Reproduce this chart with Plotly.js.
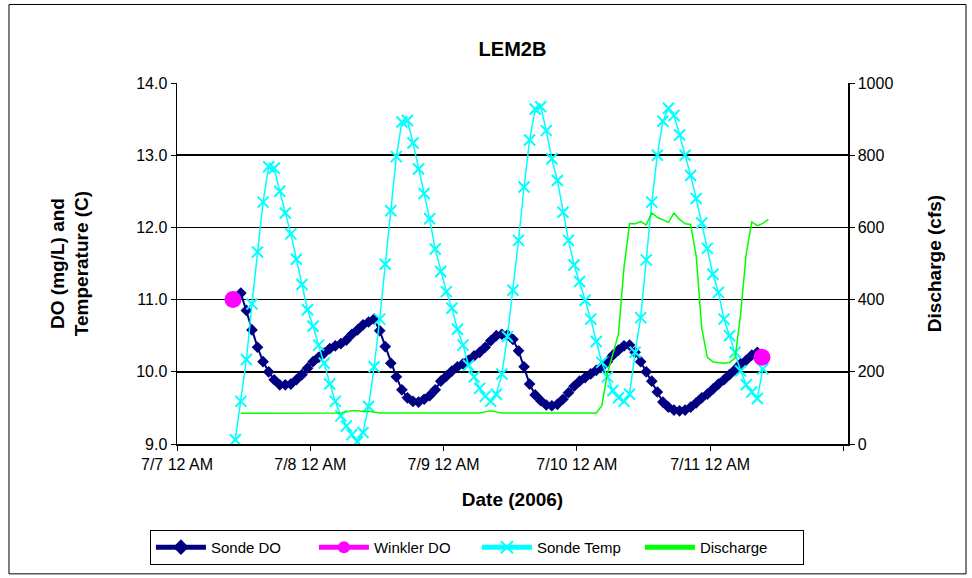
<!DOCTYPE html>
<html><head><meta charset="utf-8">
<script src="https://cdn.plot.ly/plotly-3.0.1.min.js"></script>
<style>html,body{margin:0;padding:0;background:#fff}#chart{width:972px;height:578px}</style>
</head><body><div id="chart"></div>
<script>
// Sampling: hourly readings
const sondeStart = '2006-07-07T10:30';
const dischargeStart = '2006-07-07T11:30';

const sondeDO = [null, 11.09, 10.85, 10.58, 10.34, 10.14, 10.00, 9.89, 9.82, 9.82,
  9.83, 9.89, 9.96, 10.05, 10.14, 10.20, 10.26, 10.32, 10.36, 10.39,
  10.44, 10.52, 10.58, 10.65, 10.69, 10.73, 10.57, 10.35, 10.12, 9.93,
  9.75, 9.64, 9.59, 9.58, 9.62, 9.67, 9.75, 9.87, 9.94, 10.01,
  10.07, 10.11, 10.16, 10.22, 10.27, 10.34, 10.43, 10.50, 10.52, 10.51,
  10.45, 10.29, 10.07, 9.83, 9.68, 9.60, 9.54, 9.53, 9.55, 9.62,
  9.71, 9.80, 9.87, 9.92, 9.97, 10.02, 10.07, 10.14, 10.23, 10.30,
  10.36, 10.37, 10.27, 10.14, 10.00, 9.87, 9.72, 9.58, 9.51, 9.47,
  9.46, 9.47, 9.51, 9.57, 9.64, 9.69, 9.76, 9.83, 9.89, 9.96,
  10.03, 10.11, 10.16, 10.23, 10.27, null];

const sondeTemp = [9.06, 9.59, 10.17, 10.94, 11.66, 12.35, 12.84, 12.82, 12.50, 12.20,
  11.91, 11.56, 11.21, 10.86, 10.63, 10.37, 10.12, 9.83, 9.59, 9.39,
  9.25, 9.13, 9.03, 9.16, 9.52, 10.07, 10.73, 11.49, 12.23, 12.98,
  13.46, 13.48, 13.17, 12.81, 12.47, 12.12, 11.70, 11.39, 11.11, 10.88,
  10.59, 10.37, 10.09, 9.93, 9.77, 9.66, 9.59, 9.69, 9.97, 10.49,
  11.13, 11.82, 12.56, 13.21, 13.64, 13.67, 13.34, 12.95, 12.65, 12.21,
  11.82, 11.48, 11.25, 10.99, 10.73, 10.42, 10.13, 9.93, 9.74, 9.64,
  9.59, 9.69, 10.27, 10.75, 11.55, 12.35, 13.00, 13.47, 13.65, 13.55,
  13.28, 13.00, 12.72, 12.40, 12.06, 11.71, 11.35, 11.10, 10.73, 10.50,
  10.27, 10.01, 9.82, 9.72, 9.63, 10.04];

const discharge = [85, 85, 86, 86, 86, 86, 86, 86, 86, 86,
  86, 86, 86, 86, 86, 86, 86, 86, 86, 89,
  92, 92, 90, 91, 88, 86, 86, 86, 86, 86,
  86, 86, 86, 86, 86, 86, 86, 86, 86, 86,
  86, 86, 86, 86, 89, 92, 89, 86, 86, 86,
  86, 86, 86, 86, 86, 86, 86, 86, 86, 86,
  86, 86, 86, 86, 86, 106, 195, 250, 305, 490,
  611, 610, 616, 607, 640, 628, 622, 614, 640, 622,
  610, 608, 520, 320, 240, 228, 225, 224, 226, 238,
  360, 527, 615, 605, 611, 622];

const winklerTimes = ['2006-07-07 10:05', '2006-07-11 09:20'];
const winklerDO = [11.0, 10.2];

const tickVals = ['2006-07-07', '2006-07-08', '2006-07-09', '2006-07-10', '2006-07-11', '2006-07-12'];
const tickText = ['7/7 12 AM', '7/8 12 AM', '7/9 12 AM', '7/10 12 AM', '7/11 12 AM', ''];

function hourly(start, n) {
  const [d, t] = start.split('T');
  const [Y, M, D] = d.split('-').map(Number);
  const [h, m] = t.split(':').map(Number);
  const base = Date.UTC(Y, M - 1, D, h, m);
  const out = [];
  for (let i = 0; i < n; i++) {
    out.push(new Date(base + i * 3600000).toISOString().slice(0, 16).replace('T', ' '));
  }
  return out;
}

const sondeTimes = hourly(sondeStart, sondeTemp.length);
const dischargeTimes = hourly(dischargeStart, discharge.length);

const FONT = 'Liberation Sans, Arial, sans-serif';

const traces = [
  {name: 'Sonde DO', x: sondeTimes, y: sondeDO, type: 'scatter', mode: 'lines+markers',
   line: {color: '#000080', width: 2}, marker: {symbol: 'diamond', size: 9, color: '#000080'},
   legendrank: 1, connectgaps: false},
  {name: 'Sonde Temp', x: sondeTimes, y: sondeTemp, type: 'scatter', mode: 'lines+markers',
   line: {color: '#00FFFF', width: 1.5},
   marker: {symbol: 'x-thin', size: 11, color: '#00FFFF', line: {color: '#00FFFF', width: 2}},
   legendrank: 3},
  {name: 'Winkler DO', x: [winklerTimes[0], winklerTimes[0], winklerTimes[1]],
   y: [winklerDO[0], null, winklerDO[1]], type: 'scatter', mode: 'lines+markers',
   line: {color: '#FF00FF', width: 1.5}, marker: {symbol: 'circle', size: 17, color: '#FF00FF'},
   connectgaps: false, legendrank: 2},
  {name: 'Discharge', x: dischargeTimes, y: discharge, yaxis: 'y2', type: 'scatter', mode: 'lines',
   line: {color: '#00FF00', width: 1.5}, legendrank: 4}
];

const layout = {
  width: 972, height: 578,
  margin: {l: 177, r: 124, t: 83, b: 134},
  paper_bgcolor: '#fff', plot_bgcolor: '#fff',
  font: {family: FONT, size: 16, color: '#000'},
  showlegend: true,
  title: {text: '<b>LEM2B</b>', font: {family: FONT, size: 20, color: '#000'},
          x: 0.5, xref: 'paper', xanchor: 'center', y: 1 - 49 / 578, yref: 'container', yanchor: 'middle'},
  xaxis: {
    type: 'date', range: ['2006-07-07 00:00', '2006-07-12 00:50'],
    tickmode: 'array', tickvals: tickVals, ticktext: tickText,
    ticks: 'outside', ticklen: 5, tickcolor: '#000', tickwidth: 1,
    showline: true, linecolor: '#000', linewidth: 1.5, showgrid: false, zeroline: false,
    tickfont: {family: FONT, size: 16, color: '#000'},
    title: {text: '<b>Date (2006)</b>', font: {family: FONT, size: 19, color: '#000'}, standoff: 21}
  },
  yaxis: {
    range: [9, 14], dtick: 1, tick0: 9, tickformat: '.1f',
    ticks: 'outside', ticklen: 5, tickcolor: '#000',
    showline: true, linecolor: '#000', linewidth: 1.5,
    showgrid: true, gridcolor: '#000', gridwidth: 1.5, zeroline: false,
    tickfont: {family: FONT, size: 16, color: '#000'},
    title: {text: '<b>DO (mg/L) and<br>Temperature (C)</b>', font: {family: FONT, size: 19, color: '#000'}, standoff: 42}
  },
  yaxis2: {
    range: [0, 1000], dtick: 200, overlaying: 'y', side: 'right',
    ticks: 'outside', ticklen: 5, tickcolor: '#000',
    showline: true, linecolor: '#000', linewidth: 1.5, showgrid: false, zeroline: false,
    tickfont: {family: FONT, size: 16, color: '#000'},
    title: {text: '<b>Discharge (cfs)</b>', font: {family: FONT, size: 19, color: '#000'}, standoff: 35}
  },
  legend: {
    orientation: 'h', x: 0.447, xanchor: 'center', y: -0.238, yanchor: 'top',
    bordercolor: '#000', borderwidth: 1, bgcolor: '#fff', itemsizing: 'constant',
    itemwidth: 50, entrywidth: 98,
    font: {family: FONT, size: 15, color: '#000'}
  },
  shapes: [
    {type: 'rect', xref: 'paper', yref: 'paper', x0: -0.2504, x1: 1.1759, y0: -0.3597, y1: 1.2175,
     line: {color: '#000', width: 1}, fillcolor: 'rgba(0,0,0,0)', layer: 'below'}
  ]
};

Plotly.newPlot('chart', traces, layout, {staticPlot: true, displayModeBar: false});
</script>
</body></html>
